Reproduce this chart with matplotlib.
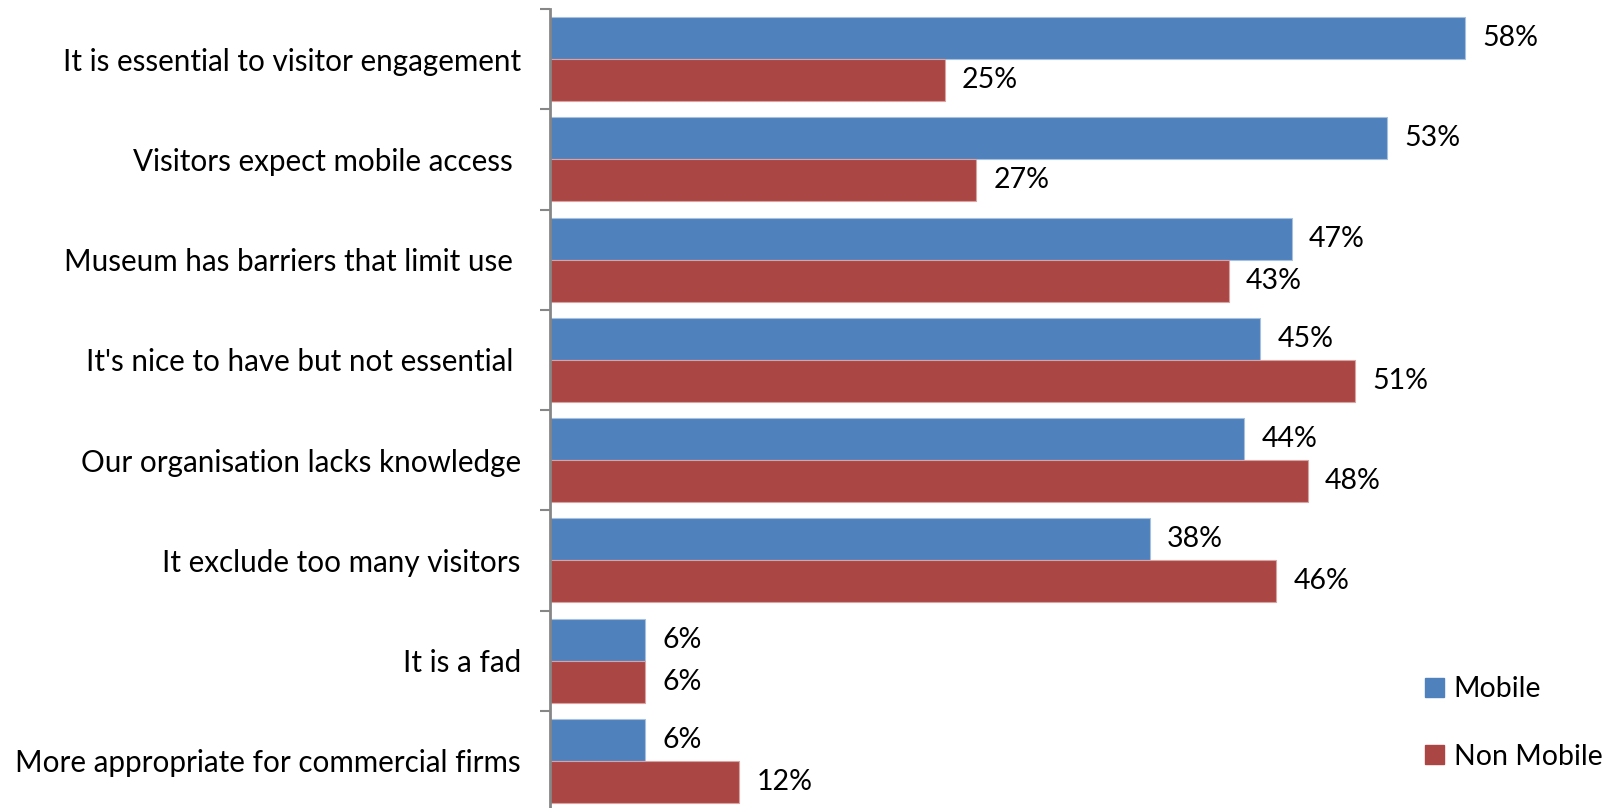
import numpy as np
import matplotlib.pyplot as plt
from matplotlib.patches import Patch

plt.rcParams['font.family'] = ['Lato', 'DejaVu Sans']

categories = [
    "It is essential to visitor engagement",
    "Visitors expect mobile access ",
    "Museum has barriers that limit use ",
    "It's nice to have but not essential ",
    "Our organisation lacks knowledge",
    "It exclude too many visitors",
    "It is a fad",
    "More appropriate for commercial firms",
]
mobile = [58, 53, 47, 45, 44, 38, 6, 6]
non_mobile = [25, 27, 43, 51, 48, 46, 6, 12]

blue = '#4F81BD'
red = '#AA4644'

fig = plt.figure(figsize=(16.14, 8.08), dpi=100)
ax = fig.add_axes([550 / 1614, -3 / 808, 947 / 1614, 802 / 808])

n = len(categories)
y = np.arange(n)
h = 0.42
ax.barh(y - h / 2, np.array(mobile) / 100, height=h, color=blue,
        edgecolor='#A7C0DE', linewidth=0.8, label='Mobile')
ax.barh(y + h / 2, np.array(non_mobile) / 100, height=h, color=red,
        edgecolor='#D9A3A2', linewidth=0.8, label='Non Mobile')

for i in range(n):
    ax.text(mobile[i] / 100 + 0.011, y[i] - h / 2, f'{mobile[i]}%',
            va='center', ha='left', fontsize=20.5)
    ax.text(non_mobile[i] / 100 + 0.011, y[i] + h / 2, f'{non_mobile[i]}%',
            va='center', ha='left', fontsize=20.5)

ax.set_xlim(0, 0.6)
ax.set_ylim(n - 0.5, -0.5)

# category labels sit between the tick marks, ticks at the boundaries
ax.set_yticks(np.arange(n + 1) - 0.5)
ax.set_yticklabels([])
ax.set_yticks(y, minor=True)
ax.set_yticklabels(categories, minor=True, fontsize=21.3)
ax.tick_params(axis='y', which='minor', length=0, pad=21)
ax.tick_params(axis='y', which='major', length=7.2, width=1.5, color='#868686')
ax.set_xticks([])

for side in ['top', 'right', 'bottom']:
    ax.spines[side].set_visible(False)
ax.spines['left'].set_color('#868686')
ax.spines['left'].set_linewidth(2)

handles = [Patch(color=blue), Patch(color=red)]
fig.legend(handles, ['Mobile', 'Non Mobile'], loc='upper left',
           bbox_to_anchor=(1411 / 1614, 1 - 662 / 808), frameon=False,
           fontsize=20.5, handlelength=0.65, handleheight=0.65,
           handletextpad=0.35, labelspacing=1.45, borderpad=0)

fig.savefig('out.png', dpi=100)
